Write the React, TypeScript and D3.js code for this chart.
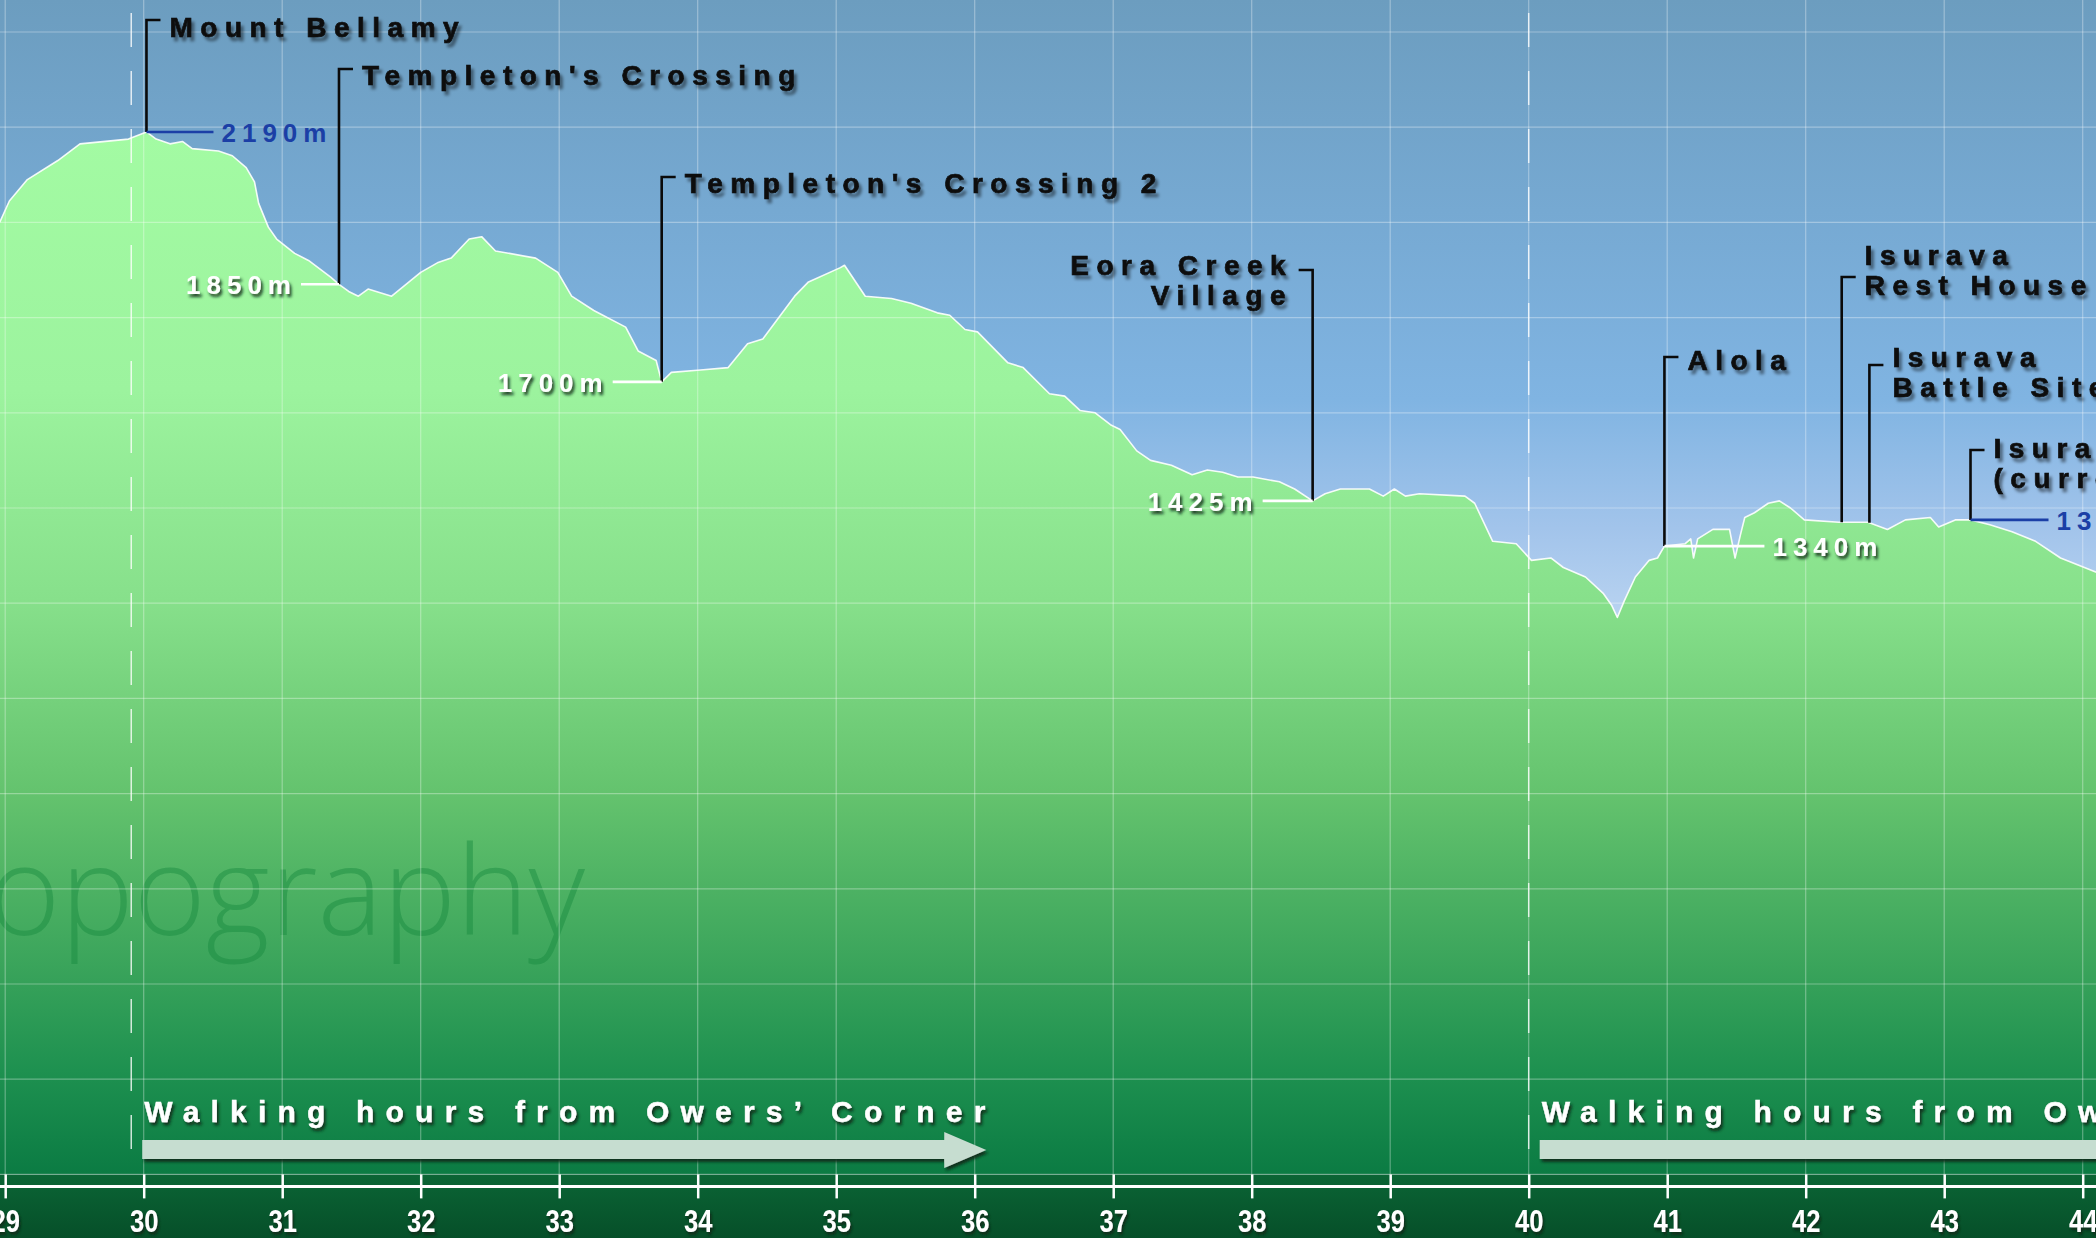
import React, { useRef, useEffect } from "react";
import * as d3 from "d3";

// Kokoda track profile: walking hours from Owers' Corner vs elevation (m)
const hours = [
  28.96, 29.03, 29.16, 29.38, 29.54, 29.89, 30.02, 30.09, 30.19, 30.28, 30.35, 30.54, 30.64, 30.74,
  30.8, 30.83, 30.9, 30.96, 31.09, 31.19, 31.35, 31.41, 31.48, 31.55, 31.62, 31.79, 32.0, 32.12,
  32.22, 32.35, 32.44, 32.54, 32.83, 32.99, 33.09, 33.25, 33.48, 33.57, 33.7, 33.74, 33.81, 34.02,
  34.22, 34.36, 34.47, 34.7, 34.8, 35.03, 35.06, 35.21, 35.4, 35.54, 35.73, 35.82, 35.93, 36.02,
  36.24, 36.35, 36.54, 36.65, 36.76, 36.87, 36.98, 37.05, 37.17, 37.27, 37.42, 37.57, 37.68, 37.79,
  37.9, 38.01, 38.2, 38.31, 38.44, 38.53, 38.64, 38.85, 38.95, 39.03, 39.11, 39.21, 39.54, 39.61,
  39.74, 39.91, 40.02, 40.16, 40.25, 40.41, 40.54, 40.6, 40.64, 40.69, 40.77, 40.87, 40.93, 40.98,
  41.13, 41.17, 41.19, 41.22, 41.33, 41.45, 41.49, 41.53, 41.56, 41.63, 41.73, 41.81, 41.89, 41.99,
  42.24, 42.45, 42.59, 42.72, 42.9, 42.96, 43.08, 43.19, 43.33, 43.49, 43.66, 43.84, 44.1,
];
const elevation = [
  2000, 2045, 2090, 2130, 2165, 2175, 2190, 2175, 2165, 2170, 2155, 2150, 2140, 2115,
  2085, 2040, 1990, 1965, 1935, 1920, 1885, 1870, 1855, 1845, 1860, 1845, 1895, 1915,
  1925, 1965, 1970, 1940, 1925, 1895, 1845, 1815, 1780, 1730, 1710, 1665, 1685, 1690,
  1695, 1745, 1755, 1845, 1875, 1905, 1910, 1845, 1840, 1830, 1810, 1805, 1775, 1770,
  1705, 1695, 1640, 1635, 1605, 1600, 1575, 1565, 1520, 1500, 1490, 1470, 1480, 1475,
  1465, 1465, 1455, 1440, 1415, 1430, 1440, 1440, 1425, 1440, 1425, 1430, 1425, 1410,
  1330, 1325, 1290, 1295, 1275, 1255, 1220, 1195, 1170, 1205, 1255, 1290, 1295, 1320,
  1325, 1335, 1295, 1335, 1355, 1355, 1295, 1345, 1380, 1390, 1410, 1415, 1400, 1375,
  1370, 1370, 1355, 1375, 1380, 1360, 1375, 1375, 1365, 1350, 1330, 1295, 1265,
];

const tickHours = [29, 30, 31, 32, 33, 34, 35, 36, 37, 38, 39, 40, 41, 42, 43, 44];
const gridElevations = [0, 200, 400, 600, 800, 1000, 1200, 1400, 1600, 1800, 2000, 2200, 2400];

const placeNames = [
  ["Mount Bellamy"],
  ["Templeton's Crossing"],
  ["Templeton's Crossing 2"],
  ["Eora Creek", "Village"],
  ["Alola"],
  ["Isurava", "Rest House"],
  ["Isurava", "Battle Site"],
  ["Isurava", "(current village)"],
];
const placeHours = [30.02, 31.41, 33.74, 38.44, 40.98, 42.26, 42.46, 43.19];
const placeHeights = ["2190m", "1850m", "1700m", "1425m", "1340m", "", "", "1370m"];

const sectionStarts = [29.91, 40.0];
const walkingLabel = "Walking hours from Owers\u2019 Corner";
const watermark = "Topography";

const App: React.FC = () => {
  const svgRef = useRef<SVGSVGElement | null>(null);

  useEffect(() => {
    const width = 2096;
    const height = 1238;
    const font = "'Liberation Sans', Arial, sans-serif";
    const svg = d3.select(svgRef.current);
    svg.selectAll("*").remove();

    const x = d3.scaleLinear().domain([30, 44]).range([143.7, 2082.7]);
    const y = d3.scaleLinear().domain([0, 2400]).range([1174.4, 32]);
    const base = y(0);

    const defs = svg.append("defs");
    const addGradient = (id: string, y1: number, y2: number, stops: [number, string][]) => {
      const g = defs
        .append("linearGradient")
        .attr("id", id)
        .attr("gradientUnits", "userSpaceOnUse")
        .attr("x1", 0)
        .attr("x2", 0)
        .attr("y1", y1)
        .attr("y2", y2);
      stops.forEach(([o, c]) => g.append("stop").attr("offset", o).attr("stop-color", c));
    };
    addGradient("sky", 0, base, [
      [0, "#6c9dbf"],
      [0.18, "#76a9d2"],
      [0.34, "#80b4e2"],
      [0.45, "#a2c4eb"],
      [0.53, "#bad4f1"],
      [1, "#c8dcf3"],
    ]);
    addGradient("land", 130, base, [
      [0, "#a3fba3"],
      [0.25, "#9cf39e"],
      [0.45, "#87e08b"],
      [0.64, "#63c26d"],
      [0.8, "#3aa45b"],
      [0.9, "#1e9150"],
      [1, "#0b7b43"],
    ]);
    addGradient("band", base, height, [
      [0, "#0b6535"],
      [1, "#064f29"],
    ]);

    const addShadow = (id: string, dx: number, dy: number, blur: number, color: string, op: number) => {
      defs
        .append("filter")
        .attr("id", id)
        .attr("x", "-20%")
        .attr("y", "-40%")
        .attr("width", "140%")
        .attr("height", "200%")
        .append("feDropShadow")
        .attr("dx", dx)
        .attr("dy", dy)
        .attr("stdDeviation", blur)
        .attr("flood-color", color)
        .attr("flood-opacity", op);
    };
    addShadow("nameShadow", 3, 4, 1.8, "#000", 0.45);
    addShadow("lightShadow", 2, 3, 1.4, "#0b2a14", 0.9);

    // sky, terrain, bottom band
    svg.append("rect").attr("width", width).attr("height", base).attr("fill", "url(#sky)");

    const profile = hours.map((h, i) => [h, elevation[i]] as [number, number]);
    const area = d3
      .area<[number, number]>()
      .x((d) => x(d[0]))
      .y0(base)
      .y1((d) => y(d[1]));
    svg.append("path").datum(profile).attr("d", area).attr("fill", "url(#land)");

    svg
      .append("rect")
      .attr("y", base)
      .attr("width", width)
      .attr("height", height - base)
      .attr("fill", "url(#band)");

    // watermark
    svg
      .append("text")
      .attr("x", 585)
      .attr("y", 935)
      .attr("text-anchor", "end")
      .attr("font-family", "'Open Sans', Lato, sans-serif")
      .attr("font-weight", 300)
      .attr("font-size", 123)
      .attr("fill", "#178a3f")
      .attr("fill-opacity", 0.45)
      .text(watermark);

    // grid
    const grid = svg
      .append("g")
      .attr("stroke", "#fff")
      .attr("stroke-opacity", 0.33)
      .attr("stroke-width", 1.2);
    grid
      .selectAll("line.h")
      .data(gridElevations)
      .join("line")
      .attr("class", "h")
      .attr("x1", 0)
      .attr("x2", width)
      .attr("y1", (d) => y(d))
      .attr("y2", (d) => y(d));
    grid
      .selectAll("line.v")
      .data(tickHours)
      .join("line")
      .attr("class", "v")
      .attr("x1", (d) => x(d))
      .attr("x2", (d) => x(d))
      .attr("y1", 0)
      .attr("y2", base);

    // profile outline
    const line = d3
      .line<[number, number]>()
      .x((d) => x(d[0]))
      .y((d) => y(d[1]));
    svg
      .append("path")
      .datum(profile)
      .attr("d", line)
      .attr("fill", "none")
      .attr("stroke", "#fff")
      .attr("stroke-width", 1.6)
      .attr("stroke-opacity", 0.9)
      .attr("stroke-linejoin", "round");

    // section seams, arrows and labels
    sectionStarts.forEach((s) => {
      const sx = x(s);
      svg
        .append("line")
        .attr("x1", sx)
        .attr("x2", sx)
        .attr("y1", 13)
        .attr("y2", 1165)
        .attr("stroke", "#fff")
        .attr("stroke-opacity", 0.8)
        .attr("stroke-width", 1.5)
        .attr("stroke-dasharray", "34,24");

      const x0 = sx + 11;
      const tip = sx + 855;
      const pts: [number, number][] = [
        [x0, 1140],
        [tip - 42, 1140],
        [tip - 42, 1132],
        [tip, 1150],
        [tip - 42, 1168],
        [tip - 42, 1159],
        [x0, 1159],
      ];
      svg
        .append("polygon")
        .attr("points", pts.map((p) => p.join(",")).join(" "))
        .attr("fill", "#c6ddd0")
        .attr("filter", "url(#lightShadow)");

      svg
        .append("text")
        .attr("x", sx + 13)
        .attr("y", 1122)
        .attr("font-family", font)
        .attr("font-weight", "bold")
        .attr("font-size", 30)
        .attr("letter-spacing", 11.2)
        .attr("fill", "#fff")
        .attr("stroke", "#fff")
        .attr("stroke-width", 0.4)
        .attr("filter", "url(#lightShadow)")
        .text(walkingLabel);
    });

    // x axis
    svg
      .append("line")
      .attr("x1", 0)
      .attr("x2", width)
      .attr("y1", base + 12)
      .attr("y2", base + 12)
      .attr("stroke", "#fff")
      .attr("stroke-width", 3);

    const axis = svg
      .append("g")
      .attr("transform", `translate(0,${base})`)
      .call(d3.axisBottom(x).tickValues(tickHours).tickSize(24).tickFormat((d) => `${d}`));
    axis.select(".domain").remove();
    axis.selectAll(".tick line").attr("stroke", "#fff").attr("stroke-width", 2.5);
    axis
      .selectAll(".tick text")
      .attr("y", 58)
      .attr("dy", 0)
      .attr("transform", "scale(0.8,1)")
      .attr("fill", "#fff")
      .attr("font-family", font)
      .attr("font-weight", "bold")
      .attr("font-size", 32)
      .attr("filter", "url(#lightShadow)");

    // place annotations
    const bisect = d3.bisector((d: [number, number]) => d[0]).left;
    const elevAt = (h: number) => {
      const i = Math.max(1, Math.min(profile.length - 1, bisect(profile, h)));
      const a = profile[i - 1];
      const b = profile[i];
      const t = (h - a[0]) / (b[0] - a[0]);
      return a[1] + t * (b[1] - a[1]);
    };

    const layout = [
      { hook: 20, dy: 17, side: 1, valueLen: 67, blue: true },
      { hook: 69, dy: 16, side: 1, valueLen: -38, blue: false },
      { hook: 177, dy: 16, side: 1, valueLen: -49, blue: false },
      { hook: 270, dy: 5, side: -1, valueLen: -50, blue: false },
      { hook: 357, dy: 13, side: 1, valueLen: 100, blue: false },
      { hook: 277, dy: -12, side: 1, valueLen: 0, blue: false },
      { hook: 365, dy: 2, side: 1, valueLen: 0, blue: false },
      { hook: 450, dy: 8, side: 1, valueLen: 78, blue: true },
    ];
    const nameSpacing = 7.5;
    const valueSpacing = 6;
    const blue = "#1b3fa6";

    placeNames.forEach((names, i) => {
      const L = layout[i];
      const lx = x(placeHours[i]);
      const ly = y(elevAt(placeHours[i]));
      const g = svg.append("g");

      g.append("path")
        .attr("d", `M${lx + L.side * 14},${L.hook}H${lx}V${ly}`)
        .attr("fill", "none")
        .attr("stroke", "#0a0a0a")
        .attr("stroke-width", 2.6);

      names.forEach((n, k) => {
        g.append("text")
          .attr("x", L.side > 0 ? lx + 23 : lx - 27 + nameSpacing)
          .attr("y", L.hook + L.dy + k * 30)
          .attr("text-anchor", L.side > 0 ? "start" : "end")
          .attr("font-family", font)
          .attr("font-weight", "bold")
          .attr("font-size", 28)
          .attr("letter-spacing", nameSpacing)
          .attr("fill", "#0a0a0a")
          .attr("stroke", "#0a0a0a")
          .attr("stroke-width", 0.7)
          .attr("filter", "url(#nameShadow)")
          .text(n);
      });

      if (L.valueLen !== 0 && placeHeights[i]) {
        const col = L.blue ? blue : "#fff";
        g.append("line")
          .attr("x1", lx)
          .attr("x2", lx + L.valueLen)
          .attr("y1", ly)
          .attr("y2", ly)
          .attr("stroke", col)
          .attr("stroke-width", 2.6);
        const right = L.valueLen > 0;
        g.append("text")
          .attr("x", right ? lx + L.valueLen + 8 : lx + L.valueLen - 10 + valueSpacing)
          .attr("y", ly + 10)
          .attr("text-anchor", right ? "start" : "end")
          .attr("font-family", font)
          .attr("font-weight", "bold")
          .attr("font-size", 26)
          .attr("letter-spacing", valueSpacing)
          .attr("fill", col)
          .attr("filter", L.blue ? null : "url(#lightShadow)")
          .text(placeHeights[i]);
      }
    });
  }, []);

  return (
    <svg
      ref={svgRef}
      width={2096}
      height={1238}
      style={{ position: "absolute", left: 0, top: 0, display: "block" }}
    />
  );
};

export default App;
